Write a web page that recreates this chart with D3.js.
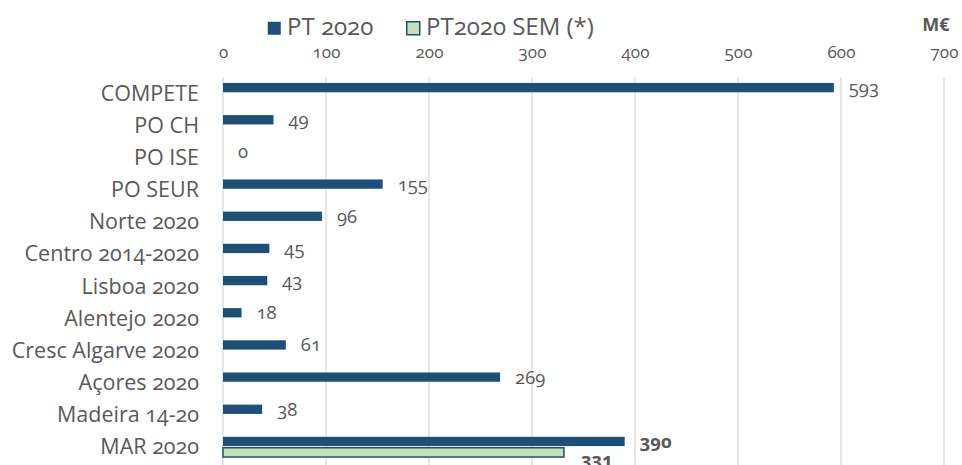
<!DOCTYPE html>
<html>
<head>
<meta charset="utf-8">
<script src="https://cdn.jsdelivr.net/npm/d3@7"></script>
<style>
  body { margin: 0; background: #fff; }
  svg text { font-family: "Open Sans", Lato, sans-serif; font-variant-numeric: oldstyle-nums; font-feature-settings: "onum" 1; fill: #595959; }
</style>
</head>
<body>
<svg id="chart" width="962" height="465"></svg>
<script>
// Chart data
const categories = ['COMPETE', 'PO CH', 'PO ISE', 'PO SEUR', 'Norte 2020', 'Centro 2014-2020',
  'Lisboa 2020', 'Alentejo 2020', 'Cresc Algarve 2020', 'Açores 2020', 'Madeira 14-20', 'MAR 2020'];
const pt2020 = [593, 49, 0, 155, 96, 45, 43, 18, 61, 269, 38, 390];
const pt2020Sem = [null, null, null, null, null, null, null, null, null, null, null, 331];
const seriesNames = ['PT 2020', 'PT2020 SEM (*)'];
const xTicks = [0, 100, 200, 300, 400, 500, 600, 700];

const blue = '#1F4E79';
const green = '#C5E0B4';

const svg = d3.select('#chart');
const plotLeft = 223, plotRight = 944, plotTop = 77, plotBottom = 463;

const x = d3.scaleLinear().domain([0, 700]).range([plotLeft, plotRight]);
const y = d3.scaleBand().domain(categories).range([plotTop, plotBottom]).paddingInner(0.37).paddingOuter(0.185);
const ySub = d3.scaleBand().domain([0, 1]).range([0, y.bandwidth()]).paddingInner(0.15);

// Gridlines
svg.append('g')
  .selectAll('line')
  .data(xTicks)
  .join('line')
    .attr('x1', d => x(d)).attr('x2', d => x(d))
    .attr('y1', plotTop).attr('y2', 465)
    .attr('stroke', '#d9d9d9')
    .attr('stroke-width', 1.3);

// Top axis
const axis = svg.append('g')
  .attr('transform', `translate(0, ${plotTop - 19})`)
  .call(d3.axisTop(x).tickValues(xTicks).tickSize(0).tickPadding(0));
axis.select('.domain').remove();
axis.selectAll('text').style('font-size', '17px').attr('fill', '#595959');

// Category labels
svg.append('g')
  .selectAll('text')
  .data(categories)
  .join('text')
    .attr('x', 199)
    .attr('y', d => y(d) + y.bandwidth() / 2)
    .attr('dy', '0.35em')
    .attr('text-anchor', 'end')
    .style('font-size', '21.5px')
    .text(d => d);

// Bars
const rows = categories.map((c, i) => ({ c, i }));
const series = [pt2020, pt2020Sem];
series.forEach((vals, s) => {
  const data = rows.filter(r => vals[r.i] !== null);
  svg.append('g')
    .selectAll('rect')
    .data(data)
    .join('rect')
      .attr('x', x(0))
      .attr('y', r => y(r.c) + ySub(s))
      .attr('width', r => x(vals[r.i]) - x(0))
      .attr('height', ySub.bandwidth())
      .attr('fill', s === 0 ? blue : green)
      .attr('stroke', s === 0 ? 'none' : blue)
      .attr('stroke-width', 1.5);

  svg.append('g')
    .selectAll('text')
    .data(data)
    .join('text')
      .attr('x', r => x(vals[r.i]) + (s === 0 ? 15 : 17))
      .attr('y', r => y(r.c) + ySub(s) + ySub.bandwidth() / 2 + (s === 0 ? 0 : 7))
      .attr('dy', '0.35em')
      .style('font-size', '18.5px')
      .style('font-weight', r => r.c === 'MAR 2020' ? 'bold' : 'normal')
      .attr('fill', '#404040')
      .text(r => vals[r.i]);
});

// Legend
const legend = svg.append('g').attr('transform', 'translate(267, 20)');
[[0, blue, 'none'], [139, green, blue]].forEach(([dx, fill, stroke], i) => {
  legend.append('rect')
    .attr('x', dx + 0.75).attr('y', 1.75)
    .attr('width', 13).attr('height', 13)
    .attr('fill', fill).attr('stroke', stroke).attr('stroke-width', 1.5);
  legend.append('text')
    .attr('x', dx + 20).attr('y', 7)
    .attr('dy', '0.35em')
    .style('font-size', '24px')
    .text(seriesNames[i]);
});

// Unit
svg.append('text')
  .attr('x', 936).attr('y', 25)
  .attr('dy', '0.35em')
  .attr('text-anchor', 'middle')
  .style('font-size', '18px')
  .style('font-weight', 'bold')
  .text('M€');
</script>
</body>
</html>
